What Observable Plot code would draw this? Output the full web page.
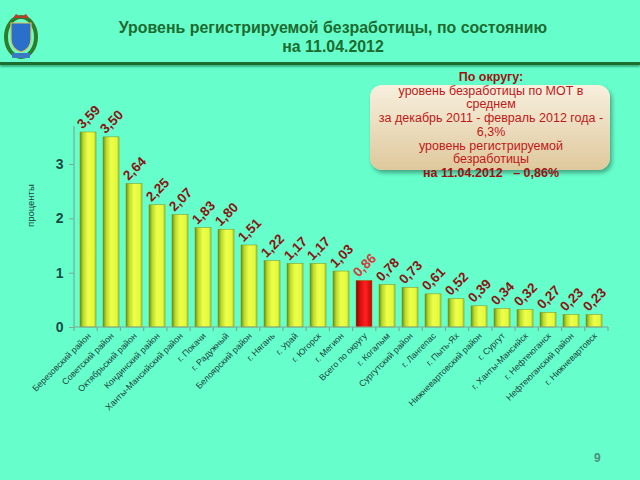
<!DOCTYPE html>
<html><head><meta charset="utf-8">
<script src="https://cdn.jsdelivr.net/npm/d3@7"></script>
<script src="https://cdn.jsdelivr.net/npm/@observablehq/plot@0.6"></script>
<style>
html,body{margin:0;padding:0}
body{background:#66ffcc;width:640px;height:480px;overflow:hidden;position:relative;font-family:"Liberation Sans",Arial,sans-serif}
#title{position:absolute;left:0;width:666px;top:18px;text-align:center;color:#1e6b30;font-weight:bold;font-size:17px;font-family:"Liberation Sans",Arial,sans-serif;line-height:19px;transform:scaleX(0.935);transform-origin:333px 0}
#rule{position:absolute;left:0;top:62px;width:640px;height:3px;background:#1d6e2e;box-shadow:0 2px 2px rgba(0,90,40,.45)}
#chart{position:absolute;left:0;top:70px}
#box{position:absolute;left:370px;top:85px;width:240px;height:85px;border-radius:12px;background:linear-gradient(#f7f0de,#dfc89c);box-shadow:2px 3px 4px rgba(0,0,0,.35)}
#note{position:absolute;left:370px;width:242px;top:71px;text-align:center;color:#c01818;font-size:12.5px;line-height:13.7px}
#note b{color:#a01010}
#page{position:absolute;left:594px;top:451px;color:#4d8f7d;font-weight:bold;font-size:12px}
#logo{position:absolute;left:4px;top:9px}
</style></head>
<body>
<svg id="logo" width="34" height="52" viewBox="0 0 34 52">
  <ellipse cx="17" cy="28" rx="15" ry="20" fill="none" stroke="#2f7d2a" stroke-width="4"/>
  <path d="M7 14 h20 v16 q0 10 -10 13 q-10 -3 -10 -13z" fill="#2a6fc9" stroke="#d9c25a" stroke-width="1.2"/>
  <path d="M9 9 l3 -4 l5 3 l5 -3 l3 4 z" fill="#c0392b"/>
  <rect x="8" y="44" width="18" height="5" rx="1" fill="#3a79c4"/>
</svg>
<div id="title">Уровень регистрируемой безработицы, по состоянию<br>на 11.04.2012</div>
<div id="rule"></div>
<div id="chart"></div>
<div id="box"></div>
<div id="note"><b>По округу:</b><br>уровень безработицы по МОТ в<br>среднем<br>за декабрь 2011 - февраль 2012 года -<br>6,3%<br>уровень регистрируемой<br>безработицы<br><b>на 11.04.2012 &nbsp;&nbsp;– 0,86%</b></div>
<div id="page">9</div>
<script>
const categories = ["Березовский район","Советский район","Октябрьский район","Кондинский район","Ханты-Мансийский район","г. Покачи","г. Радужный","Белоярский район","г. Нягань","г. Урай","г. Югорск","г. Мегион","Всего по округу","г. Когалым","Сургутский район","г. Лангепас","г. Пыть-Ях","Нижневартовский район","г. Сургут","г. Ханты-Мансийск","г. Нефтеюганск","Нефтеюганский район","г. Нижневартовск"];
const values = [3.59,3.50,2.64,2.25,2.07,1.83,1.80,1.51,1.22,1.17,1.17,1.03,0.86,0.78,0.73,0.61,0.52,0.39,0.34,0.32,0.27,0.23,0.23];
const highlight = "Всего по округу";
const yTicks = [0,1,2,3];
const yLabel = "проценты";

const data = categories.map((name, i) => ({name, value: values[i]}));
const fmt = v => d3.format(".2f")(v).replace(".", ",");

function defs() {
  const ns = "http://www.w3.org/2000/svg";
  const d = document.createElementNS(ns, "defs");
  d.innerHTML = `
   <linearGradient id="gy" x1="0" x2="1" y1="0" y2="0">
     <stop offset="0" stop-color="#6a8a10"/><stop offset="0.2" stop-color="#b9d92c"/>
     <stop offset="0.5" stop-color="#eeff4a"/><stop offset="0.85" stop-color="#e2f93c"/>
     <stop offset="1" stop-color="#b0c824"/></linearGradient>
   <linearGradient id="gr" x1="0" x2="1" y1="0" y2="0">
     <stop offset="0" stop-color="#8a0000"/><stop offset="0.3" stop-color="#e01010"/>
     <stop offset="0.6" stop-color="#ff2222"/><stop offset="1" stop-color="#c40000"/></linearGradient>`;
  return d;
}

function axes(index, scales, values, dim) {
  const y = scales.y;
  const g = d3.create("svg:g").attr("stroke", "#7fa898").attr("stroke-width", 1.2);
  const x0 = dim.marginLeft, x1 = dim.width - dim.marginRight;
  const yb = y(0);
  g.append("line").attr("x1", x0).attr("x2", x0).attr("y1", yb).attr("y2", dim.marginTop);
  g.append("line").attr("x1", x0).attr("x2", x1).attr("y1", yb).attr("y2", yb);
  const step = (x1 - x0) / categories.length;
  for (let i = 0; i <= categories.length; i++) {
    const xx = x0 + i * step;
    g.append("line").attr("x1", xx).attr("x2", xx).attr("y1", yb).attr("y2", yb + 4);
  }
  return g.node();
}

const chart = Plot.plot({
  width: 640, height: 380,
  marginLeft: 74, marginRight: 32, marginTop: 56, marginBottom: 123,
  style: {background: "transparent", overflow: "visible", fontFamily: "'Liberation Sans', Arial, sans-serif"},
  x: {domain: categories, paddingInner: 0.31, paddingOuter: 0.155, axis: null},
  y: {domain: [0, 3.7], axis: null},
  color: {type: "identity"},
  marks: [
    defs,
    Plot.barY(data, {x: "name", y: "value", fill: d => d.name === highlight ? "url(#gr)" : "url(#gy)", stroke: "#7d8f1a", strokeWidth: 0.5}),
    axes,
    Plot.axisY({ticks: yTicks, tickFormat: "d", tickSize: 5, tickPadding: 6, fontSize: 14, fontWeight: "bold", fill: "#1b4a42", stroke: "#7fa898", label: null}),
    Plot.text([yLabel], {frameAnchor: "left", rotate: -90, dx: -44, dy: 0, fontSize: 9.5, fill: "#1e3d3a"}),
    Plot.text(categories, {x: d => d, frameAnchor: "bottom", rotate: -45, textAnchor: "end", dx: 3, dy: 9, fontSize: 8.8, fill: "#1e3d3a"}),
    Plot.text(data, {x: "name", y: "value", text: d => fmt(d.value), rotate: -45, textAnchor: "start", lineAnchor: "bottom", dx: -6, dy: -3, fontSize: 13.5, fontWeight: "bold", fill: d => d.name === highlight ? "#d43a3a" : "#8b1414"})
  ]
});
document.getElementById("chart").append(chart);
</script>
</body></html>
